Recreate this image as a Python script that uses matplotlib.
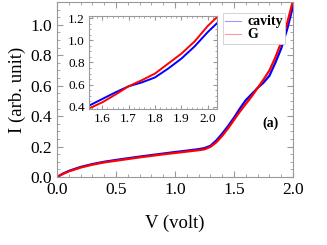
import matplotlib.pyplot as plt
from matplotlib.ticker import MultipleLocator

plt.rcParams['font.family'] = ['Liberation Serif', 'DejaVu Serif']

# main curves
v = [0.0, 0.05, 0.1, 0.2, 0.3, 0.4, 0.5, 0.6, 0.7, 0.8, 0.9, 1.0, 1.1, 1.2, 1.25,
     1.3, 1.35, 1.4, 1.45, 1.5, 1.55, 1.6, 1.65, 1.7, 1.75, 1.8, 1.85, 1.9, 1.95, 2.0]
i_cavity = [0.0, 0.022, 0.040, 0.066, 0.085, 0.100, 0.112, 0.123, 0.134, 0.144, 0.154,
            0.164, 0.173, 0.183, 0.190, 0.205, 0.240, 0.285, 0.335, 0.390, 0.450, 0.505,
            0.545, 0.585, 0.620, 0.665, 0.750, 0.845, 0.970, 1.120]
i_g = [0.0, 0.020, 0.037, 0.062, 0.081, 0.096, 0.107, 0.118, 0.129, 0.139, 0.149,
       0.158, 0.167, 0.176, 0.182, 0.198, 0.228, 0.270, 0.320, 0.375, 0.430, 0.480,
       0.530, 0.585, 0.640, 0.700, 0.785, 0.885, 1.010, 1.160]

# inset curves
v_in = [1.55, 1.6, 1.65, 1.7, 1.75, 1.8, 1.85, 1.9, 1.95, 2.0, 2.035]
i_cav_in = [0.410, 0.470, 0.530, 0.585, 0.620, 0.665, 0.745, 0.835, 0.945, 1.075, 1.155]
i_g_in = [0.385, 0.440, 0.510, 0.585, 0.640, 0.700, 0.790, 0.880, 0.990, 1.130, 1.210]

main_xticks = [0.0, 0.5, 1.0, 1.5, 2.0]
main_yticks = [0.0, 0.2, 0.4, 0.6, 0.8, 1.0]
inset_xticks = [1.6, 1.7, 1.8, 1.9, 2.0]
inset_yticks = [0.4, 0.6, 0.8, 1.0, 1.2]

fig = plt.figure(figsize=(3.27, 2.45), dpi=100)
ax = fig.add_axes([57 / 327, 1 - 177 / 245, 236 / 327, 175 / 245])

ax.plot(v, i_cavity, color='blue', lw=1.6)
ax.plot(v, i_g, color='red', lw=1.6)
ax.plot([], [], color='#9999ff', lw=0.8, label='cavity')
ax.plot([], [], color='#ff9999', lw=0.8, label='G')
ax.set_xlim(0, 2.0)
ax.set_ylim(0, 1.15)
ax.set_xticks(main_xticks)
ax.set_xticklabels([f'{t:.1f}' for t in main_xticks])
ax.set_yticks(main_yticks)
ax.set_yticklabels([f'{t:.1f}' for t in main_yticks])
ax.xaxis.set_minor_locator(MultipleLocator(0.1))
ax.yaxis.set_minor_locator(MultipleLocator(0.05))
ax.tick_params(which='both', direction='in', top=True, right=True, colors='#999999',
               labelcolor='black', labelsize=12.5)
ax.tick_params(which='major', length=4)
ax.tick_params(which='minor', length=2)
for s in ax.spines.values():
    s.set_color('#999999')
ax.set_xlabel('V (volt)', fontsize=13.5, labelpad=12)
ax.set_ylabel('I (arb. unit)', fontsize=13.5, labelpad=3)
ax.text(1.81, 0.35, '(a)', fontsize=10, fontweight='bold', ha='center', va='center')
leg = ax.legend(loc='upper right', bbox_to_anchor=(0.965, 0.935),
                prop={'weight': 'bold', 'size': 10}, handlelength=1.2, handletextpad=0.4,
                borderpad=0.15, labelspacing=0.0, borderaxespad=0.0,
                fancybox=False, framealpha=1)
leg.get_frame().set_edgecolor('#cccccc')
leg.get_frame().set_linewidth(0.6)

ins = fig.add_axes([89 / 327, 1 - 109 / 245, 128 / 327, 93 / 245])
ins.plot(v_in, i_cav_in, color='blue', lw=1.4)
ins.plot(v_in, i_g_in, color='red', lw=1.4)
ins.set_xlim(1.55, 2.035)
ins.set_ylim(0.38, 1.22)
ins.set_xticks(inset_xticks)
ins.set_xticklabels([f'{t:.1f}' for t in inset_xticks])
ins.set_yticks(inset_yticks)
ins.set_yticklabels([f'{t:.1f}' for t in inset_yticks])
ins.xaxis.set_minor_locator(MultipleLocator(0.02))
ins.yaxis.set_minor_locator(MultipleLocator(0.05))
ins.tick_params(which='both', direction='in', top=True, right=True, colors='#999999',
                labelcolor='black', labelsize=9.5, pad=3)
ins.tick_params(which='major', length=3)
ins.tick_params(which='minor', length=1.5)
for s in ins.spines.values():
    s.set_color('#999999')

fig.savefig('out.png', dpi=100)
